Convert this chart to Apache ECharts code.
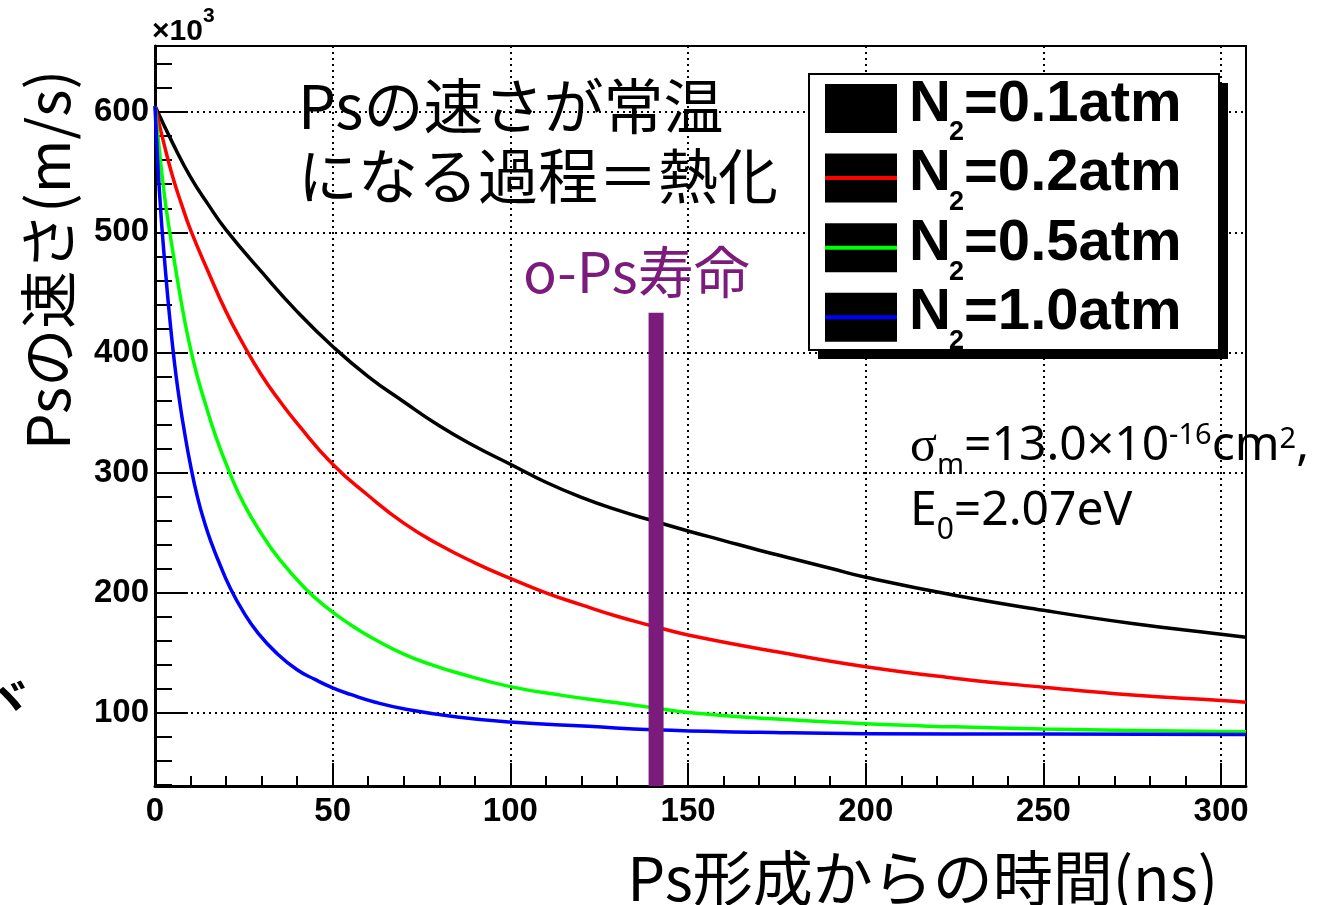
<!DOCTYPE html>
<html>
<head>
<meta charset="utf-8">
<script src="https://cdn.jsdelivr.net/npm/echarts@6/dist/echarts.min.js"></script>
<style>
  html, body { margin: 0; padding: 0; background: #fff; }
  #chart { width: 1324px; height: 905px; }
</style>
</head>
<body>
<div id="chart"></div>
<script>
// Ps speed (×10^3 m/s) versus time after Ps formation (ns), four N2 pressures.
const tBlack = [0, 5, 10, 15, 20, 30, 40, 50, 60, 70, 80, 90, 100, 110, 120, 130, 140, 150, 160, 170, 180, 190, 200, 225, 250, 275, 300, 307];
const vBlack = [605, 574, 546, 523, 502, 467, 434, 405, 380, 359, 339, 322, 307, 292, 279.5, 269, 260, 251.5, 243.5, 235.5, 228, 220.5, 213, 198, 185.5, 174.5, 165.5, 163];

const tRed = [0, 2.5, 5, 7.5, 10, 15, 20, 25, 30, 35, 40, 50, 60, 70, 80, 90, 100, 110, 120, 130, 140, 150, 175, 200, 225, 250, 275, 300, 307];
const vRed = [605, 574, 546, 523, 502, 467, 434, 406, 381, 360, 341, 307, 281, 258, 240, 225, 212, 200, 190, 180.5, 172.5, 165, 151, 138.5, 129, 121.5, 115, 110.5, 109];

const tGreen = [0, 1, 2, 3, 4, 6, 8, 10, 12, 14, 17, 21, 25, 30, 35, 42, 48, 55, 62, 70, 78, 85, 100, 115, 130, 140, 150, 175, 200, 225, 250, 275, 300, 307];
const vGreen = [605, 575, 547, 523, 503, 466, 432, 403, 379, 359, 331, 300, 274, 249, 228, 204.5, 188.5, 173.5, 161, 149, 140, 133.5, 122, 114.5, 108.5, 104.5, 100.5, 95, 91, 88.5, 86.7, 85.5, 84.7, 84.5];

const tBlue = [0, 0.5, 1, 1.5, 2, 3, 4, 5, 6, 7, 8, 10, 12, 14, 16, 18, 21, 25, 29, 34, 40, 45, 50, 55, 62, 71, 85, 100, 122, 140, 170, 200, 250, 307];
const vBlue = [605, 574, 546, 523, 502, 466, 433, 404, 379, 358, 339, 306, 279, 258, 240.5, 225.5, 205, 183.5, 166.5, 150.5, 136, 128, 121, 115.5, 109, 103, 96.7, 92.5, 89, 86, 84, 82.8, 82.5, 82.2];

const pressures = ['0.1', '0.2', '0.5', '1.0'];
const lineColors = ['#000000', '#ff0000', '#00ff00', '#0000ff'];

// o-Ps lifetime marker (ns) and the top of its bar (×10^3 m/s)
const lifetimeNs = 141;
const lifetimeBarTop = 433;

const xTicks = { min: 0, max: 307, step: 50 };
const yRange = { min: 39.3, max: 655 };

const pairs = (ts, vs) => ts.map((t, i) => [t, vs[i]]);
const curves = [pairs(tBlack, vBlack), pairs(tRed, vRed), pairs(tGreen, vGreen), pairs(tBlue, vBlue)];

const CJK = "'Noto Sans CJK JP', 'Noto Sans', sans-serif";
const SANS = "'Liberation Sans', Arial, sans-serif";
const LATIN = "'Noto Sans', 'Open Sans', sans-serif";
const SERIF = "'Liberation Serif', 'DejaVu Serif', serif";

const mctx = document.createElement('canvas').getContext('2d');
function fontOf(p) { return `${p.weight || 'normal'} ${p.size}px ${p.family}`; }

// lay out a run of text pieces sharing one baseline (with optional sub/superscript shifts)
function textRun(x, baseline, parts, color) {
  let cx = x;
  const out = [];
  parts.forEach(p => {
    const font = fontOf(p);
    mctx.font = font;
    mctx.textBaseline = 'alphabetic';
    const m = mctx.measureText(p.text);
    const mid = (m.fontBoundingBoxAscent - m.fontBoundingBoxDescent) / 2;
    out.push({
      type: 'text', x: cx, y: baseline + (p.dy || 0) - mid, z: 100,
      style: { text: p.text, font, fill: p.color || color, align: 'left', verticalAlign: 'middle',
               textAlign: 'left', textVerticalAlign: 'middle' }
    });
    cx += m.width + (p.gap || 0);
  });
  return out;
}

function centerText(text, x, y, size, family, opts) {
  opts = opts || {};
  return {
    type: 'text', x, y, rotation: opts.rotation || 0, z: 100,
    style: { text, font: `${opts.weight || 'normal'} ${size}px ${family}`, fill: opts.color || '#000',
             align: opts.align || 'center', verticalAlign: 'middle',
             textAlign: opts.align || 'center', textVerticalAlign: 'middle' }
  };
}

const graphics = [];

// axis titles
graphics.push(centerText('Psの速さ(m/s)', 48, 260, 58, CJK, { rotation: Math.PI / 2 }));
graphics.push(centerText('Ps形成からの時間(ns)', 1218, 878, 60, CJK, { align: 'right' }));
graphics.push(centerText('ヾ', 10, 697, 46, CJK, { weight: 'bold' }));

// axis exponent
graphics.push(...textRun(152, 42, [
  { text: '×10', size: 30, weight: 'bold', family: SANS },
  { text: '3', size: 21, weight: 'bold', family: SANS, dy: -18 }
], '#000'));

// headline and lifetime label
graphics.push(centerText('Psの速さが常温', 298, 106, 60, CJK, { align: 'left' }));
graphics.push(centerText('になる過程＝熱化', 298, 176, 60, CJK, { align: 'left' }));
graphics.push(centerText('o-Ps寿命', 523, 272, 56, CJK, { align: 'left', color: '#7b1b7b' }));

// simulation parameters
graphics.push(...textRun(910, 465, [
  { text: 'σ', size: 50, family: SERIF },
  { text: 'm', size: 29, family: LATIN, dy: 12 },
  { text: '=13.0×10', size: 48, family: LATIN },
  { text: '-16', size: 29, family: LATIN, dy: -18 },
  { text: 'cm', size: 48, family: LATIN },
  { text: '2', size: 29, family: LATIN, dy: -14 },
  { text: ',', size: 48, family: LATIN }
], '#000'));
graphics.push(...textRun(910, 530, [
  { text: 'E', size: 48, family: LATIN },
  { text: '0', size: 30, family: LATIN, dy: 12 },
  { text: '=2.07eV', size: 48, family: LATIN }
], '#000'));

// legend box with drop shadow
const lg = { x: 809, y: 74, w: 410, h: 276, shadow: 9, row: 69.6 };
graphics.push({ type: 'rect', z: 90, shape: { x: lg.x + lg.shadow, y: lg.y + lg.shadow, width: lg.w, height: lg.h }, style: { fill: '#000' } });
graphics.push({ type: 'rect', z: 91, shape: { x: lg.x, y: lg.y, width: lg.w, height: lg.h }, style: { fill: '#fff', stroke: '#000', lineWidth: 2 } });
pressures.forEach((p, i) => {
  const top = 84 + lg.row * i;
  graphics.push({ type: 'rect', z: 92, shape: { x: 825, y: top, width: 72, height: 49 }, style: { fill: '#000' } });
  graphics.push({ type: 'line', z: 93, shape: { x1: 825, y1: top + 24.5, x2: 897, y2: top + 24.5 }, style: { stroke: lineColors[i], lineWidth: 4 } });
  const base = 125 + lg.row * i;
  graphics.push(...textRun(909, base, [{ text: 'N', size: 58, weight: 'bold', family: SANS }], '#000'));
  graphics.push(...textRun(949, base + 17, [{ text: '2', size: 27, weight: 'bold', family: SANS }], '#000'));
  graphics.push(...textRun(964, base, [{ text: '=' + p + 'atm', size: 58, weight: 'bold', family: SANS }], '#000'));
});

const series = curves.map((data, i) => ({
  name: 'N2=' + pressures[i] + 'atm',
  type: 'line',
  data,
  showSymbol: false,
  smooth: 0.5,
  lineStyle: { color: lineColors[i], width: 3.5 },
  z: 3 + i,
  silent: true
}));
series.push({
  name: 'o-Ps lifetime',
  type: 'line',
  data: [[lifetimeNs, lifetimeBarTop], [lifetimeNs, yRange.min]],
  showSymbol: false,
  lineStyle: { color: '#7b1b7b', width: 15, cap: 'butt' },
  z: 10,
  silent: true
});

const tickLine = { color: '#000', width: 2 };
const dotted = { color: '#000', width: 2, type: [2, 4] };

const chart = echarts.init(document.getElementById('chart'), null, { renderer: 'canvas' });
chart.setOption({
  animation: false,
  backgroundColor: '#fff',
  grid: { left: 155, top: 46, right: 78, bottom: 119, show: true, borderColor: '#000', borderWidth: 2, backgroundColor: 'transparent' },
  xAxis: {
    type: 'value', min: xTicks.min, max: xTicks.max, interval: xTicks.step,
    axisLine: { lineStyle: { color: '#000', width: 3 } },
    axisTick: { inside: true, length: 23, lineStyle: tickLine },
    minorTick: { show: true, splitNumber: 5, length: 10, lineStyle: tickLine },
    splitLine: { show: true, lineStyle: dotted },
    axisLabel: { showMaxLabel: false, color: '#000', fontFamily: SANS, fontWeight: 'bold', fontSize: 33, margin: 9 }
  },
  yAxis: {
    type: 'value', min: yRange.min, max: yRange.max, splitNumber: 6,
    axisLine: { lineStyle: { color: '#000', width: 3 } },
    axisTick: { inside: true, length: 33, lineStyle: tickLine },
    minorTick: { show: true, splitNumber: 5, length: 17, lineStyle: tickLine },
    splitLine: { show: true, lineStyle: dotted },
    axisLabel: { showMinLabel: false, showMaxLabel: false, color: '#000', fontFamily: SANS, fontWeight: 'bold', fontSize: 33, margin: 6 }
  },
  series,
  graphic: { elements: graphics }
});
</script>
</body>
</html>
